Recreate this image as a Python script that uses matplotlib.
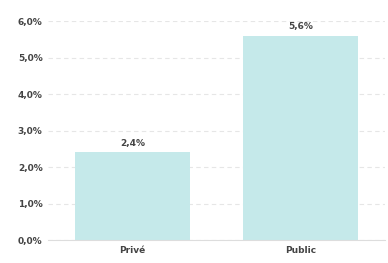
import matplotlib.pyplot as plt

categories = ['Privé', 'Public']
values = [2.4, 5.6]
yticks = [0, 1, 2, 3, 4, 5, 6]

fig = plt.figure(figsize=(3.88, 2.63), dpi=100)
ax = fig.add_axes([0.124, 0.087, 0.868, 0.833])

x = range(len(categories))
bars = ax.bar(x, values, width=0.68, color='#c5e9ea', zorder=2)

for xi, v in zip(x, values):
    ax.text(xi, v + 0.12, f'{v:.1f}%'.replace('.', ','), ha='center', va='bottom',
            fontsize=6.5, fontweight='bold', color='#444444')

ax.set_xlim(-0.5, 1.5)
ax.set_ylim(0, 6)
ax.set_yticks(yticks)
ax.set_yticklabels([f'{t:.1f}%'.replace('.', ',') for t in yticks])
ax.set_xticks(list(x))
ax.set_xticklabels(categories)
ax.tick_params(axis='both', length=0, labelsize=6.5, colors='#444444', pad=4)
for lab in ax.get_xticklabels() + ax.get_yticklabels():
    lab.set_fontweight('bold')

ax.yaxis.grid(True, linestyle=(0, (4, 3)), color='#e6e6e6', linewidth=0.8, zorder=0)
for s in ['top', 'right', 'left']:
    ax.spines[s].set_visible(False)
ax.spines['bottom'].set_color('#dddddd')
ax.spines['bottom'].set_linewidth(0.8)

fig.savefig('out.png', dpi=100)
